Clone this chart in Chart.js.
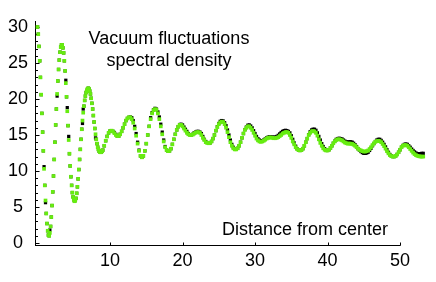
<!DOCTYPE html>
<html>
<head>
<meta charset="utf-8">
<script src="https://cdn.jsdelivr.net/npm/chart.js@4/dist/chart.umd.min.js"></script>
<style>
  html, body { margin: 0; padding: 0; background: #fff; }
  #wrap { width: 436px; height: 282px; }
</style>
</head>
<body>
<div id="wrap"><canvas id="chart" width="436" height="282"></canvas></div>
<script>
// sampling of the distance axis: fine steps near the center, coarser further out
const NEAR_STEP = 0.1;   // x = 0 .. 9.0
const FAR_START = 9.2;
const FAR_STEP = 0.2;    // x = 9.2 .. 53.2

// green series near the center (x 0..9, step 0.1)
const greenNear = [
  30.0, 29.0, 27.3, 25.3, 23.0, 20.6, 18.0, 15.4, 12.8, 10.3,
  8.0, 5.9, 4.1, 2.7, 1.7, 1.1, 1.0, 1.4, 2.3, 3.6,
  5.2, 7.1, 9.3, 11.6, 14.0, 16.4, 18.6, 20.7, 22.5, 24.1,
  25.4, 26.5, 27.2, 27.5, 27.5, 27.1, 26.4, 25.3, 23.9, 22.2,
  20.3, 18.3, 16.3, 14.3, 12.4, 10.7, 9.2, 8.0, 7.0, 6.4,
  6.0, 5.8, 5.9, 6.2, 6.9, 7.8, 8.9, 10.2, 11.6, 13.0,
  14.4, 15.8, 17.0, 18.1, 19.0, 19.8, 20.4, 20.9, 21.2, 21.4,
  21.5, 21.4, 21.1, 20.7, 20.1, 19.4, 18.6, 17.7, 16.8, 15.9,
  15.1, 14.4, 13.8, 13.3, 13.0, 12.75, 12.65, 12.6, 12.65, 12.75,
  12.9
];

// green series further out (x 9.2..53.2, step 0.2)
const greenFar = [
  13.5, 14.2, 14.8, 15.3,
  15.55, 15.6, 15.5, 15.25, 15.0, 14.85, 14.85, 15.1, 15.5, 16.0,
  16.5, 17.0, 17.3, 17.45, 17.45, 17.2, 16.7, 15.9, 14.9, 13.8,
  12.8, 12.1, 11.9, 12.1, 12.8, 13.8, 15.0, 16.2, 17.2, 18.0,
  18.45, 18.6, 18.5, 18.0, 17.2, 16.2, 15.1, 14.1, 13.3, 12.9,
  12.75, 12.8, 13.1, 13.7, 14.4, 15.1, 15.7, 16.15, 16.4, 16.4,
  16.2, 15.9, 15.6, 15.3, 15.1, 15.0, 15.0, 15.05, 15.2, 15.3,
  15.4, 15.4, 15.3, 15.0, 14.6, 14.3, 14.0, 13.9, 13.85, 13.9,
  14.1, 14.5, 15.0, 15.6, 16.1, 16.5, 16.75, 16.85, 16.8, 16.5,
  16.0, 15.4, 14.7, 14.0, 13.5, 13.15, 13.0, 13.0, 13.15, 13.5,
  14.0, 14.6, 15.2, 15.7, 16.0, 16.2, 16.2, 16.0, 15.7, 15.3,
  14.9, 14.5, 14.25, 14.1, 14.05, 14.1, 14.2, 14.35, 14.5, 14.6,
  14.65, 14.65, 14.6, 14.55, 14.55, 14.6, 14.7, 14.85, 15.0, 15.2,
  15.3, 15.4, 15.4, 15.3, 15.0, 14.6, 14.1, 13.7, 13.3, 13.05,
  12.9, 12.85, 12.9, 13.1, 13.5, 14.0, 14.5, 15.0, 15.3, 15.5,
  15.55, 15.5, 15.3, 14.9, 14.4, 13.9, 13.5, 13.15, 12.95, 12.85,
  12.85, 12.95, 13.2, 13.5, 13.85, 14.1, 14.3, 14.4, 14.4, 14.35,
  14.25, 14.1, 13.95, 13.85, 13.8, 13.8, 13.8, 13.75, 13.65, 13.5,
  13.3, 13.1, 12.95, 12.85, 12.75, 12.7, 12.7, 12.75, 12.85, 13.05,
  13.3, 13.6, 13.85, 14.05, 14.15, 14.2, 14.15, 14.0, 13.75, 13.45,
  13.1, 12.75, 12.45, 12.2, 12.05, 12.0, 12.0, 12.1, 12.3, 12.6,
  12.95, 13.3, 13.5, 13.6, 13.6, 13.5, 13.3, 13.05, 12.8, 12.55,
  12.35, 12.2, 12.1, 12.05, 12.0, 12.0, 12.0
];

// black series near the center, mostly hidden under the green one
const blackNear = [
  30.0, 29.0, 27.3, 25.3, 23.0, 20.6, 18.0, 15.4, 12.8, 10.6,
  8.0, 5.6, 4.1, 2.7, 1.7, 1.1, 1.0, 1.8, 2.3, 3.6,
  5.2, 7.1, 9.3, 11.6, 14.0, 16.4, 18.6, 20.4, 22.5, 24.1,
  25.4, 26.5, 27.2, 27.5, 27.5, 27.1, 26.4, 25.3, 23.9, 22.6,
  20.3, 18.8, 16.3, 14.8, 12.4, 10.7, 9.2, 8.0, 7.0, 6.4,
  6.0, 5.8, 5.9, 6.2, 6.9, 7.8, 8.9, 10.2, 11.6, 13.0,
  14.4, 15.8, 16.6, 18.6, 19.0, 19.8, 20.4, 20.9, 21.2, 21.4,
  21.5, 21.4, 21.1, 20.7, 20.1, 19.4, 18.6, 17.7, 16.8, 15.9,
  14.6, 14.4, 13.8, 13.3, 13.0, 12.75, 12.65, 12.6, 12.65, 12.75,
  12.9
];

// black series further out
const blackFar = [
  13.5, 14.2, 14.8, 15.3,
  15.55, 15.6, 15.5, 15.35, 15.1, 14.85, 14.85, 15.1, 15.5, 16.0,
  16.5, 17.0, 17.3, 17.45, 17.5, 17.4, 17.0, 16.2, 15.2, 14.0,
  12.9, 12.1, 11.9, 12.1, 12.8, 13.8, 15.0, 16.2, 17.4, 18.1,
  18.5, 18.7, 18.6, 18.2, 17.5, 16.5, 15.4, 14.3, 13.4, 12.9,
  12.75, 12.8, 13.1, 13.7, 14.4, 15.1, 15.7, 16.15, 16.45, 16.5,
  16.4, 16.1, 15.8, 15.5, 15.2, 15.05, 15.0, 15.1, 15.3, 15.4,
  15.5, 15.5, 15.4, 15.2, 14.8, 14.4, 14.1, 13.95, 13.85, 13.9,
  14.1, 14.5, 15.0, 15.6, 16.15, 16.6, 16.9, 17.0, 16.95, 16.7,
  16.3, 15.7, 15.0, 14.3, 13.7, 13.3, 13.05, 13.0, 13.15, 13.5,
  14.0, 14.6, 15.2, 15.75, 16.1, 16.35, 16.4, 16.25, 16.0, 15.6,
  15.2, 14.8, 14.5, 14.3, 14.2, 14.2, 14.3, 14.45, 14.6, 14.7,
  14.75, 14.75, 14.7, 14.7, 14.7, 14.8, 14.95, 15.15, 15.35, 15.5,
  15.6, 15.65, 15.6, 15.5, 15.3, 14.9, 14.4, 13.9, 13.45, 13.1,
  12.9, 12.85, 12.9, 13.1, 13.5, 14.0, 14.5, 15.05, 15.45, 15.7,
  15.8, 15.8, 15.65, 15.3, 14.8, 14.3, 13.8, 13.4, 13.1, 12.9,
  12.85, 12.95, 13.2, 13.5, 13.85, 14.15, 14.4, 14.5, 14.55, 14.5,
  14.45, 14.3, 14.15, 14.05, 14.0, 14.05, 14.05, 14.0, 13.85, 13.65,
  13.4, 13.1, 12.9, 12.7, 12.55, 12.45, 12.45, 12.5, 12.6, 12.85,
  13.15, 13.5, 13.8, 14.1, 14.3, 14.4, 14.4, 14.25, 14.0, 13.7,
  13.35, 12.95, 12.6, 12.3, 12.1, 12.0, 12.0, 12.1, 12.3, 12.6,
  12.95, 13.3, 13.55, 13.7, 13.75, 13.7, 13.5, 13.3, 13.05, 12.85,
  12.65, 12.5, 12.4, 12.4, 12.4, 12.45, 12.45
];

// axis ticks
const xTickValues = [10, 20, 30, 40, 50];
const yTickValues = [0, 5, 10, 15, 20, 25, 30];
const yMinorTicks = [1, 2, 3, 4, 6, 7, 8, 9, 11, 12, 13, 14, 16, 17, 18, 19, 21, 22, 23, 24, 26, 27, 28, 29];

const FONT = '"Liberation Sans", Arial, Helvetica, sans-serif';
const round1 = v => Math.round(v * 10) / 10;

function toPoints(near, far) {
  const pts = near.map((y, i) => ({ x: round1(i * NEAR_STEP), y }));
  far.forEach((y, i) => pts.push({ x: round1(FAR_START + i * FAR_STEP), y }));
  return pts;
}

// Mathematica-like axes: lines with small inward ticks
const axesPlugin = {
  id: 'axesLines',
  beforeDatasetsDraw(chart) {
    const { ctx, scales: { x, y } } = chart;
    const left = Math.round(x.left) + 0.5;
    const bottom = Math.round(y.bottom) + 0.5;
    ctx.save();
    ctx.strokeStyle = '#000';
    ctx.lineWidth = 1;
    ctx.beginPath();
    ctx.moveTo(left, bottom);
    ctx.lineTo(left, y.top);
    ctx.moveTo(left - 0.5, bottom);
    ctx.lineTo(x.getPixelForValue(50) + 0.5, bottom);
    yTickValues.forEach(v => {
      const py = Math.round(y.getPixelForValue(v)) + 0.5;
      ctx.moveTo(left, py);
      ctx.lineTo(left + 4, py);
    });
    yMinorTicks.forEach(v => {
      const py = Math.round(y.getPixelForValue(v)) + 0.5;
      ctx.moveTo(left, py);
      ctx.lineTo(left + 2.5, py);
    });
    xTickValues.forEach(v => {
      const px = Math.round(x.getPixelForValue(v)) + 0.5;
      ctx.moveTo(px, bottom);
      ctx.lineTo(px, bottom - 3);
    });
    ctx.stroke();
    ctx.restore();
  }
};

// the text labels inside the plot
const labelsPlugin = {
  id: 'plotLabels',
  afterDraw(chart) {
    const ctx = chart.ctx;
    ctx.save();
    ctx.fillStyle = '#000';
    ctx.font = '18px ' + FONT;
    ctx.textAlign = 'center';
    ctx.textBaseline = 'alphabetic';
    ctx.fillText('Vacuum fluctuations', 169, 44);
    ctx.fillText('spectral density', 169, 66);
    ctx.fillText('Distance from center', 305, 235);
    ctx.restore();
  }
};

new Chart(document.getElementById('chart'), {
  type: 'scatter',
  data: {
    datasets: [
      {
        label: 'green',
        data: toPoints(greenNear, greenFar),
        backgroundColor: '#66ec10',
        borderWidth: 0,
        pointStyle: 'rect',
        pointRadius: 2.6,
        clip: false,
        order: 0
      },
      {
        label: 'black',
        data: toPoints(blackNear, blackFar),
        backgroundColor: '#000000',
        borderWidth: 0,
        pointStyle: 'rect',
        pointRadius: 2.3,
        clip: false,
        order: 1
      }
    ]
  },
  options: {
    responsive: false,
    devicePixelRatio: 1,
    animation: false,
    layout: { padding: { top: 21, right: 10, left: 0, bottom: 0 } },
    plugins: {
      legend: { display: false },
      tooltip: { enabled: false }
    },
    scales: {
      x: {
        type: 'linear',
        min: -0.35,
        max: 53.58,
        grid: { display: false, drawTicks: false },
        border: { display: false },
        afterBuildTicks: scale => { scale.ticks = xTickValues.map(v => ({ value: v })); },
        afterFit: scale => { scale.height = 37; },
        ticks: {
          padding: 5,
          color: '#000',
          font: { family: FONT, size: 18 },
          maxRotation: 0
        }
      },
      y: {
        type: 'linear',
        min: -0.28,
        max: 30.83,
        grid: { display: false, drawTicks: false },
        border: { display: false },
        afterBuildTicks: scale => { scale.ticks = yTickValues.map(v => ({ value: v })); },
        afterFit: scale => { scale.width = 35; },
        ticks: {
          padding: 7,
          crossAlign: 'center',
          color: '#000',
          font: { family: FONT, size: 18 }
        }
      }
    }
  },
  plugins: [axesPlugin, labelsPlugin]
});
</script>
</body>
</html>
